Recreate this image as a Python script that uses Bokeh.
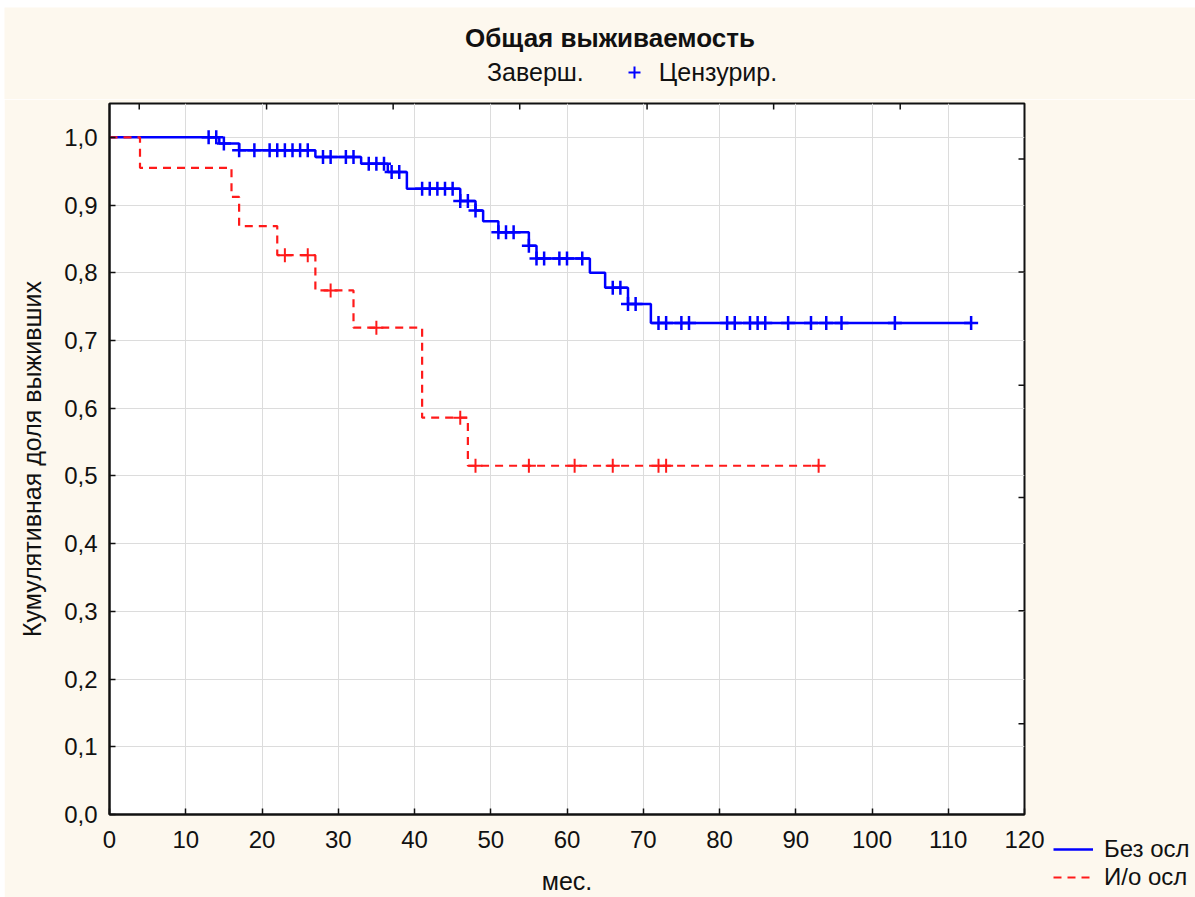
import numpy as np
from bokeh.plotting import figure
from bokeh.layouts import column, row
from bokeh.models import (Range1d, FixedTicker, Legend, LegendItem, Label,
                          CustomJSTickFormatter)
from bokeh.embed import file_html
from bokeh.resources import INLINE

# ---------------- data ----------------
title_text = "Общая выживаемость"
x_label = "мес."
y_label = "Кумулятивная доля выживших"
legend_done = "Заверш."
legend_cens = "Цензурир."
series_names = ["Без осл", "И/о осл"]

x_ticks = [0, 10, 20, 30, 40, 50, 60, 70, 80, 90, 100, 110, 120]
y_ticks = [0.0, 0.1, 0.2, 0.3, 0.4, 0.5, 0.6, 0.7, 0.8, 0.9, 1.0]
top_ticks = [3.9, 20.6, 37.2, 53.8, 70.5, 87.1, 103.7]
right_ticks = [0.968, 0.801, 0.634, 0.468, 0.301, 0.134]

# "Без осл" (blue) Kaplan-Meier steps
blue_times = [0, 14.4, 17, 27, 33, 36.5, 39, 46, 48, 49, 51, 55, 56, 63, 65, 68, 71]
blue_surv = [1.0, 0.991, 0.981, 0.971, 0.961, 0.949, 0.924, 0.906, 0.892, 0.876,
             0.860, 0.840, 0.821, 0.800, 0.778, 0.754, 0.726]
blue_last = 113
blue_censored = [13, 14, 15, 17, 19, 21, 22, 23, 24, 25, 26, 28, 29, 31, 32, 34, 35, 36,
                 37, 38, 41, 42, 43, 44, 45, 46, 47, 48, 51, 52, 53, 55, 56, 57, 59, 60,
                 62, 66, 67, 68, 69, 72, 73, 75, 76, 81, 82, 84, 85, 86, 89, 92, 94, 96,
                 103, 113]

# "И/о осл" (red) Kaplan-Meier steps
red_times = [0, 4, 16, 17, 22, 27, 32, 41, 47]
red_surv = [1.0, 0.955, 0.912, 0.869, 0.826, 0.774, 0.719, 0.586, 0.515]
red_last = 93
red_censored = [23, 26, 29, 35, 46, 48, 55, 61, 66, 72, 73, 93]


def surv_at(times, surv, t):
    idx = np.searchsorted(np.array(times, dtype=float), np.array(t, dtype=float), side="right") - 1
    return list(np.array(surv)[idx])


blue_step_x = blue_times + [blue_last]
blue_step_y = blue_surv + [blue_surv[-1]]
red_step_x = red_times + [red_last]
red_step_y = red_surv + [red_surv[-1]]
blue_cens_y = surv_at(blue_times, blue_surv, blue_censored)
red_cens_y = surv_at(red_times, red_surv, red_censored)

FONT = "Liberation Sans"
BG = "#fdf8ee"
BLUE = "#0000ff"
RED = "#ff1a1a"
INK = "#111111"


def blank_fig(w, h):
    # frame covers the whole figure; ranges lie away from the data so that the
    # legend proxy renderers below draw nothing but their legend swatches
    f = figure(width=w, height=h, x_range=Range1d(-2, -1), y_range=Range1d(-2, -1),
               output_backend="svg", toolbar_location=None,
               x_axis_location=None, y_axis_location=None, min_border=0)
    f.grid.visible = False
    f.outline_line_color = None
    f.background_fill_color = BG
    f.border_fill_color = BG
    return f


# ---------------- header (title + marker legend) ----------------
hdr = blank_fig(1191, 92)
hdr.add_layout(Label(x=605.5, y=62, x_units="screen", y_units="screen", text=title_text,
                     text_font=FONT, text_font_size="26px", text_font_style="bold",
                     text_color=INK, text_align="center", text_baseline="middle"))
done_r = hdr.scatter(x=blue_step_x, y=blue_step_y, marker="cross", line_color=INK, line_alpha=0)
cens_r = hdr.scatter(x=blue_censored, y=blue_cens_y, marker="cross", size=13,
                     line_color=BLUE, line_width=2)
hdr.add_layout(Legend(items=[LegendItem(label=legend_done, renderers=[done_r]),
                             LegendItem(label=legend_cens, renderers=[cens_r])],
                      orientation="horizontal", location=(443, 12),
                      label_text_font=FONT, label_text_font_size="25px", label_text_color=INK,
                      glyph_width=30, glyph_height=30, label_height=30, label_standoff=10,
                      spacing=35, padding=0, margin=0,
                      border_line_alpha=0, background_fill_alpha=0))

# ---------------- main plot ----------------
p = figure(width=1191, height=798, x_range=Range1d(0, 120), y_range=Range1d(0, 1.05),
           output_backend="svg", toolbar_location=None,
           min_border_left=105, min_border_right=171, min_border_top=4, min_border_bottom=83)
p.background_fill_color = "white"
p.border_fill_color = BG
p.outline_line_color = INK
p.outline_line_width = 2

for ax in (p.xaxis[0], p.yaxis[0]):
    ax.major_tick_in = 6
    ax.major_tick_out = 0
    ax.minor_tick_line_color = None
    ax.axis_line_width = 2
    ax.axis_line_color = INK
    ax.major_tick_line_color = INK
    ax.major_tick_line_width = 1.5
    ax.major_label_text_font = FONT
    ax.major_label_text_font_size = "24px"
    ax.major_label_text_color = INK
    ax.axis_label_text_font = FONT
    ax.axis_label_text_font_size = "25px"
    ax.axis_label_text_font_style = "normal"
    ax.axis_label_text_color = INK

p.xaxis.ticker = FixedTicker(ticks=x_ticks)
p.yaxis.ticker = FixedTicker(ticks=y_ticks)
p.yaxis.formatter = CustomJSTickFormatter(code="return tick.toFixed(1).replace('.', ',');")
p.xaxis.major_label_standoff = 16
p.yaxis.major_label_standoff = 12
p.xaxis.axis_label = x_label
p.yaxis.axis_label = y_label
p.xaxis.axis_label_standoff = 16
p.yaxis.axis_label_standoff = 15

p.xgrid.ticker = FixedTicker(ticks=x_ticks)
p.ygrid.ticker = FixedTicker(ticks=y_ticks)
for g in (p.xgrid[0], p.ygrid[0]):
    g.grid_line_color = "#dcdcdc"
    g.grid_line_width = 1

# inward tick marks on the top and right frame edges (half of each dash is clipped)
p.scatter(x=top_ticks, y=[p.y_range.end] * len(top_ticks), marker="dash", angle=np.pi / 2,
          size=12, line_color=INK, line_width=1.5)
p.scatter(x=[p.x_range.end] * len(right_ticks), y=right_ticks, marker="dash",
          size=12, line_color=INK, line_width=1.5)

# curves
p.step(x=blue_step_x, y=blue_step_y, mode="after", line_color=BLUE, line_width=2.5)
p.step(x=red_step_x, y=red_step_y, mode="after", line_color=RED, line_width=2.2,
       line_dash="8 6")
p.scatter(x=blue_censored, y=blue_cens_y, marker="cross", size=14, line_color=BLUE,
          line_width=2.5)
p.scatter(x=red_censored, y=red_cens_y, marker="cross", size=14, line_color=RED,
          line_width=2)

# ---------------- series legend (lower right, overlapping the plot's border) ----------------
leg = blank_fig(142, 62)
blue_proxy = leg.line(x=blue_step_x, y=blue_step_y, line_color=BLUE, line_width=2.5)
red_proxy = leg.line(x=red_step_x, y=red_step_y, line_color=RED, line_width=2.2,
                     line_dash="8 6")
leg.add_layout(Legend(items=[LegendItem(label=series_names[0], renderers=[blue_proxy]),
                             LegendItem(label=series_names[1], renderers=[red_proxy])],
                      location="top_left", label_text_font=FONT, label_text_font_size="24px",
                      label_text_color=INK, glyph_width=40, glyph_height=24, label_height=24,
                      label_standoff=11, spacing=-6, padding=0, margin=0,
                      border_line_alpha=0, background_fill_alpha=0))

layout = column(row(hdr), row(p), row(leg, margin=(-62, 0, 0, 1049)), spacing=0)
layout.margin = (7, 0, 0, 4)

open("out.html", "w").write(file_html(layout, INLINE))
